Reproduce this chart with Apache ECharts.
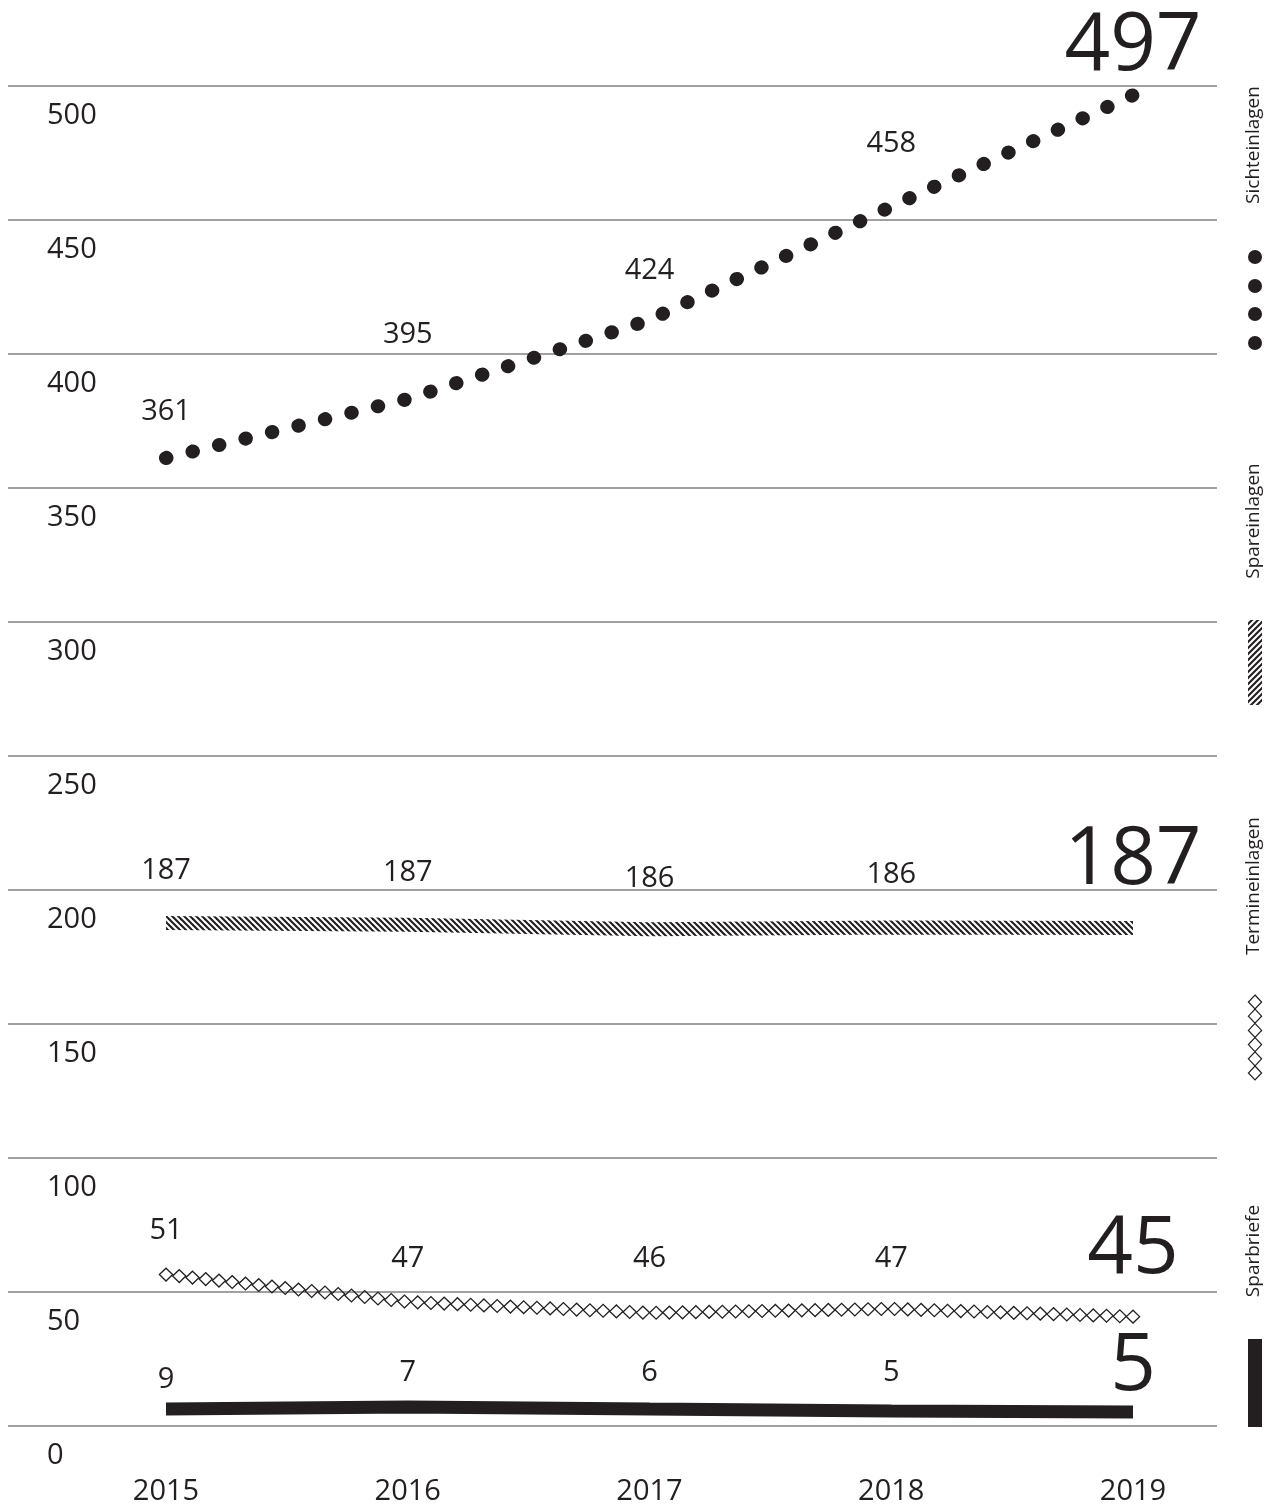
<!DOCTYPE html>
<html>
<head>
<meta charset="utf-8">
<title>Einlagen</title>
<script src="https://cdn.jsdelivr.net/npm/echarts/dist/echarts.min.js"></script>
<style>
  html, body { margin: 0; padding: 0; background: #ffffff; }
  #chart { width: 1281px; height: 1505px; }
</style>
</head>
<body>
<div id="chart"></div>
<script>
// ---------- data ----------
const years = ['2015', '2016', '2017', '2018', '2019'];
const seriesNames = ['Sichteinlagen', 'Spareinlagen', 'Termineinlagen', 'Sparbriefe'];

// plotted positions
const sichteinlagen = [361.2, 383.2, 412.7, 455.0, 496.6];
const spareinlagen = [187.7, 187.0, 185.4, 186.0, 185.8];
const termineinlagen = [56.5, 46.3, 42.2, 43.7, 40.8];
const sparbriefe = [6.3, 7.1, 6.3, 5.6, 5.2];

// printed value labels
const sichteinlagenLabels = ['361', '395', '424', '458', '497'];
const spareinlagenLabels = ['187', '187', '186', '186', '187'];
const termineinlagenLabels = ['51', '47', '46', '47', '45'];
const sparbriefeLabels = ['9', '7', '6', '5', '5'];

// ---------- styles ----------
const INK = '#231f20';
const GRID_COLOR = '#808080';
const FONT = '"Open Sans", "DejaVu Sans", sans-serif';
const SMALL = 29;
const BIG = 80;

// label gap above each point (style only)
const sichtLabelGap = [32, 50, 35, 48, 8];
const sparLabelGap = [38, 38, 36, 38, 27];
const terminLabelGap = [29, 29, 40, 36, 26];
const briefLabelGap = [15, 20, 22, 24, 5];

function hatchPattern(dir) {
  const N = 12;
  const c = document.createElement('canvas');
  c.width = N; c.height = N;
  const g = c.getContext('2d');
  g.strokeStyle = INK;
  g.lineWidth = 2.1;
  for (let k = -6; k <= 8; k++) {
    const o = k * N / 2;
    g.beginPath();
    if (dir > 0) { g.moveTo(o - N, -N); g.lineTo(o + 2 * N, 2 * N); }
    else { g.moveTo(o + N, -N); g.lineTo(o - 2 * N, 2 * N); }
    g.stroke();
  }
  return { image: c, repeat: 'repeat' };
}
const hatchBack = hatchPattern(1);   // "\\\\" on the line
const hatchFwd = hatchPattern(-1);   // "////" in the legend

function labelOpt(labels) {
  return {
    show: true, position: 'top',
    color: INK, fontFamily: FONT, fontSize: SMALL,
    formatter: p => labels[p.dataIndex]
  };
}
function buildData(values, gaps) {
  return values.map((v, i) => ({
    value: v,
    label: { distance: gaps[i], fontSize: i === values.length - 1 ? BIG : SMALL }
  }));
}
const hiddenSymbol = { showSymbol: true, symbol: 'circle', symbolSize: 0, itemStyle: { color: 'rgba(0,0,0,0)' } };

// ---------- legend graphics ----------
const LX = 1255;
const legend = [];
const legendText = [[seriesNames[0], 145], [seriesNames[1], 521], [seriesNames[2], 886], [seriesNames[3], 1251]];
legendText.forEach(([t, y]) => legend.push({
  type: 'text', x: LX - 1, y: y, rotation: Math.PI / 2,
  style: { text: t, fill: INK, font: '19px ' + FONT, align: 'center', verticalAlign: 'middle' }
}));
[257, 286, 314, 343].forEach(y => legend.push({
  type: 'circle', shape: { cx: LX, cy: y, r: 7 }, style: { fill: INK }
}));
legend.push({ type: 'rect', shape: { x: LX - 7, y: 620, width: 14, height: 85 }, style: { fill: hatchFwd } });
for (let k = 0; k < 6; k++) {
  const cy = 1002 + k * 14.2;
  legend.push({
    type: 'polygon',
    shape: { points: [[LX, cy - 7], [LX + 6.6, cy], [LX, cy + 7], [LX - 6.6, cy]] },
    style: { fill: 'none', stroke: INK, lineWidth: 1.2 }
  });
}
legend.push({ type: 'rect', shape: { x: LX - 7, y: 1339, width: 14, height: 88 }, style: { fill: INK } });

// ---------- chart ----------
const chart = echarts.init(document.getElementById('chart'), null, { renderer: 'canvas' });

const diamondData = termineinlagen.slice(0, -1).map((v, i) => [i, v, termineinlagen[i + 1]]);

const option = {
  animation: false,
  backgroundColor: '#ffffff',
  textStyle: { fontFamily: FONT },
  grid: [
    { left: 8, right: 64, top: 86, bottom: 79, outerBoundsMode: 'none', containLabel: false },
    { left: 166, right: 148, top: 86, bottom: 79, outerBoundsMode: 'none', containLabel: false }
  ],
  xAxis: [
    { gridIndex: 0, type: 'value', min: 0, max: 1, show: false },
    {
      gridIndex: 1, type: 'category', data: years, boundaryGap: false,
      axisLine: { show: false }, axisTick: { show: false }, splitLine: { show: false },
      axisLabel: { color: INK, fontSize: SMALL, fontFamily: FONT, margin: 51, interval: 0 }
    }
  ],
  yAxis: [
    {
      gridIndex: 0, type: 'value', min: 0, max: 500, interval: 50,
      axisLine: { show: false }, axisTick: { show: false },
      splitLine: { show: true, lineStyle: { color: GRID_COLOR, width: 1.5 } },
      axisLabel: {
        inside: true, margin: 39, color: INK, fontSize: SMALL, fontFamily: FONT,
        verticalAlign: 'top', lineHeight: 60
      }
    },
    { gridIndex: 1, type: 'value', min: 0, max: 500, show: false }
  ],
  series: [
    {
      id: 'sicht', name: seriesNames[0], type: 'line', xAxisIndex: 1, yAxisIndex: 1,
      data: buildData(sichteinlagen, sichtLabelGap), ...hiddenSymbol,
      lineStyle: { color: INK, width: 14, type: [0.5, 26.8], cap: 'round' },
      label: labelOpt(sichteinlagenLabels), z: 5
    },
    {
      id: 'spar', name: seriesNames[1], type: 'line', xAxisIndex: 1, yAxisIndex: 1,
      data: buildData(spareinlagen, sparLabelGap), ...hiddenSymbol,
      lineStyle: { color: hatchBack, width: 14, cap: 'butt' },
      label: labelOpt(spareinlagenLabels), z: 5
    },
    {
      id: 'termin', name: seriesNames[2], type: 'line', xAxisIndex: 1, yAxisIndex: 1,
      data: buildData(termineinlagen, terminLabelGap), ...hiddenSymbol,
      lineStyle: { color: INK, width: 0, opacity: 0 },
      label: labelOpt(termineinlagenLabels), z: 5
    },
    {
      id: 'terminPattern', name: seriesNames[2] + ' (Muster)', type: 'custom', xAxisIndex: 1, yAxisIndex: 1,
      data: diamondData, encode: { x: 0, y: 1 }, z: 4,
      renderItem: function (params, api) {
        const i = api.value(0);
        const a = api.coord([i, api.value(1)]);
        const b = api.coord([i + 1, api.value(2)]);
        const start = api.coord([0, 0])[0];
        const end = api.coord([termineinlagen.length - 1, 0])[0];
        const n = Math.round((end - start) / 13.3);
        const step = (end - start) / n;
        const last = i === termineinlagen.length - 2;
        const children = [];
        for (let k = 0; k <= n; k++) {
          const x = start + k * step;
          if (x < a[0] - 0.01) continue;
          if (last ? x > b[0] + 0.01 : x >= b[0] - 0.01) continue;
          const y = a[1] + (b[1] - a[1]) * (x - a[0]) / (b[0] - a[0]);
          children.push({
            type: 'polygon',
            shape: { points: [[x - 6.6, y], [x, y - 6.4], [x + 6.6, y], [x, y + 6.4]] },
            style: { fill: 'none', stroke: INK, lineWidth: 1.3 }
          });
        }
        return { type: 'group', children: children };
      }
    },
    {
      id: 'brief', name: seriesNames[3], type: 'line', xAxisIndex: 1, yAxisIndex: 1,
      data: buildData(sparbriefe, briefLabelGap), ...hiddenSymbol,
      lineStyle: { color: INK, width: 13, cap: 'butt' },
      label: labelOpt(sparbriefeLabels), z: 5
    }
  ],
  graphic: legend
};
chart.setOption(option);

// make the dot rhythm end exactly on the last point
(function fitDots() {
  const pts = sichteinlagen.map((v, i) => chart.convertToPixel({ seriesIndex: 0 }, [i, v]));
  let len = 0;
  for (let i = 1; i < pts.length; i++) len += Math.hypot(pts[i][0] - pts[i - 1][0], pts[i][1] - pts[i - 1][1]);
  if (!isFinite(len) || len <= 0) return;
  const n = Math.round(len / 27.3);
  const period = (len - 1.2) / n;
  chart.setOption({ series: [{ id: 'sicht', lineStyle: { type: [0.5, period - 0.5] } }] });
})();
</script>
</body>
</html>
